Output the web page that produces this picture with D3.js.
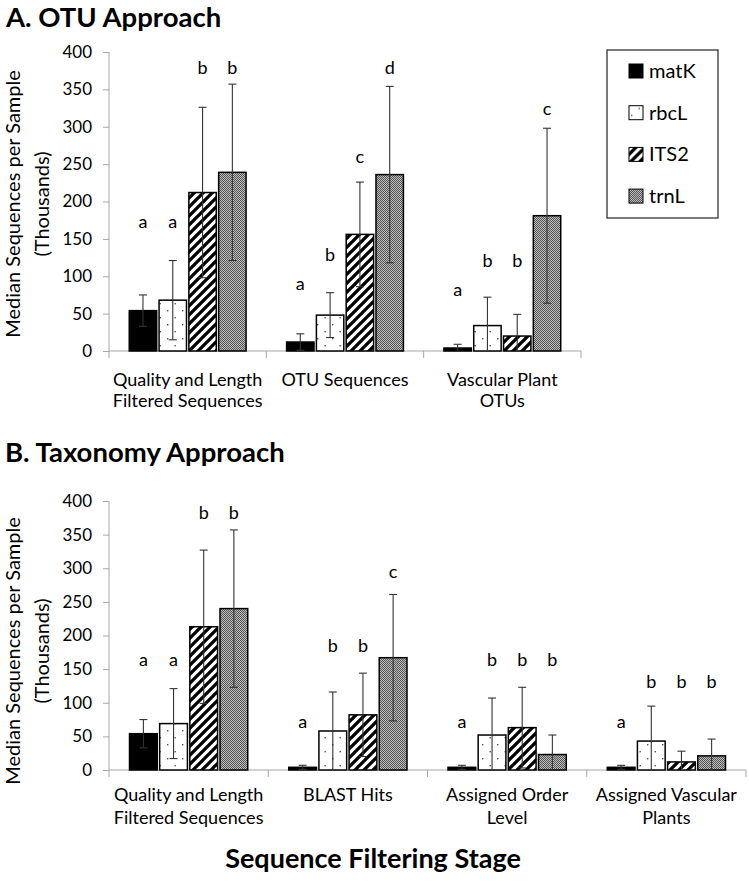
<!DOCTYPE html>
<html>
<head>
<meta charset="utf-8">
<script src="https://cdn.jsdelivr.net/npm/d3@7"></script>
<style>
  body { margin: 0; background: #fff; }
  svg { display: block; font-family: Lato, "Open Sans", sans-serif; }
</style>
</head>
<body>
<svg id="chart" width="749" height="893"></svg>
<script>
// markers (series)
const markers = ["matK", "rbcL", "ITS2", "trnL"];
const yTicks = [0, 50, 100, 150, 200, 250, 300, 350, 400];

// A. OTU approach
const stagesA = ["Quality and Length|Filtered Sequences", "OTU Sequences", "Vascular Plant|OTUs"];
const matK_A = [54, 12, 4];
const rbcL_A = [68, 48, 34];
const ITS2_A = [212, 156, 20];
const trnL_A = [239, 236, 181];
const matK_errA = [21, 11, 5];
const rbcL_errA = [53, 30, 38];
const ITS2_errA = [114, 70, 29];
const trnL_errA = [118, 118, 117];
const lettersA = [["a", "a", "b", "b"], ["a", "b", "c", "d"], ["a", "b", "b", "c"]];
const letterPosA = [[164, 164, 370, 370], [81, 121, 252, 370], [73, 112, 112, 316]];

// B. Taxonomy approach
const stagesB = ["Quality and Length|Filtered Sequences", "BLAST Hits", "Assigned Order|Level", "Assigned Vascular|Plants"];
const matK_B = [54, 4, 4, 4];
const rbcL_B = [69, 58, 52, 43];
const ITS2_B = [213, 82, 63, 12];
const trnL_B = [240, 167, 23, 21];
const matK_errB = [21, 3, 3, 3];
const rbcL_errB = [52, 58, 55, 52];
const ITS2_errB = [114, 62, 60, 16];
const trnL_errB = [117, 94, 29, 25];
const lettersB = [["a", "a", "b", "b"], ["a", "b", "b", "c"], ["a", "b", "b", "b"], ["a", "b", "b", "b"]];
const letterPosB = [[154, 154, 373, 373], [63, 175, 175, 286], [63, 154, 154, 154], [63, 122, 122, 122]];

const svg = d3.select("#chart");
const defs = svg.append("defs");

// patterns
const dots = defs.append("pattern").attr("id", "dots")
  .attr("patternUnits", "userSpaceOnUse").attr("width", 15).attr("height", 14);
dots.append("rect").attr("width", 15).attr("height", 14).attr("fill", "#fff");
dots.append("rect").attr("x", 2).attr("y", 2).attr("width", 1.4).attr("height", 1.4).attr("fill", "#555");
dots.append("rect").attr("x", 9.5).attr("y", 9).attr("width", 1.4).attr("height", 1.4).attr("fill", "#555");

const stripes = defs.append("pattern").attr("id", "stripes")
  .attr("patternUnits", "userSpaceOnUse").attr("width", 9).attr("height", 9);
stripes.append("rect").attr("width", 9).attr("height", 9).attr("fill", "#fff");
stripes.append("path").attr("d", "M-2,2 L2,-2 M0,9 L9,0 M7,11 L11,7")
  .attr("stroke", "#000").attr("stroke-width", 3.3);

const checks = defs.append("pattern").attr("id", "checks")
  .attr("patternUnits", "userSpaceOnUse").attr("width", 2).attr("height", 2);
checks.append("rect").attr("width", 2).attr("height", 2).attr("fill", "#bdbdbd");
checks.append("rect").attr("width", 1).attr("height", 1).attr("fill", "#555");
checks.append("rect").attr("x", 1).attr("y", 1).attr("width", 1).attr("height", 1).attr("fill", "#555");

const fills = d3.scaleOrdinal().domain(markers)
  .range(["#000", "url(#dots)", "url(#stripes)", "url(#checks)"]);

function buildRows(stages, series, errs, letters, letterPos) {
  return stages.flatMap((s, i) => markers.map((m, j) => ({
    stage: s, marker: m,
    value: series[j][i], err: errs[j][i],
    letter: letters[i][j], letterY: letterPos[i][j]
  })));
}

function drawPanel(cfg) {
  const g = svg.append("g");
  const x = d3.scaleBand().domain(cfg.stages).range([cfg.left, cfg.right]);
  const xi = d3.scaleBand().domain(markers).range([0, x.bandwidth()])
    .paddingInner(0.08).paddingOuter(0.68);
  const y = d3.scaleLinear().domain([0, 400]).range([cfg.bottom, cfg.top]);

  // y axis
  const yAxis = g.append("g")
    .attr("transform", `translate(${cfg.left},0)`)
    .call(d3.axisLeft(y).tickValues(yTicks).tickSize(6).tickSizeOuter(0).tickPadding(11));
  yAxis.select(".domain").remove();
  yAxis.selectAll(".tick line").attr("stroke", "#a6a6a6");
  yAxis.selectAll(".tick text").attr("font-size", 17).attr("fill", "#000")
    .attr("font-family", "Lato, sans-serif");
  g.append("line")
    .attr("x1", cfg.left).attr("x2", cfg.left)
    .attr("y1", cfg.top).attr("y2", cfg.bottom + 7)
    .attr("stroke", "#a6a6a6");

  // x axis line + dividers
  g.append("line")
    .attr("x1", cfg.left).attr("x2", cfg.right)
    .attr("y1", cfg.bottom).attr("y2", cfg.bottom)
    .attr("stroke", "#a6a6a6");
  const bounds = cfg.stages.map(s => x(s)).concat([cfg.right]);
  g.selectAll("line.div").data(bounds.slice(1)).join("line")
    .attr("class", "div")
    .attr("x1", d => d).attr("x2", d => d)
    .attr("y1", cfg.bottom).attr("y2", cfg.bottom + 7)
    .attr("stroke", "#a6a6a6");

  // category labels
  const labels = g.selectAll("text.cat").data(cfg.stages).join("text")
    .attr("class", "cat")
    .attr("text-anchor", "middle")
    .attr("font-size", 18);
  labels.selectAll("tspan").data(d => d.split("|").map(t => ({ t, s: d }))).join("tspan")
    .attr("x", d => x(d.s) + x.bandwidth() / 2)
    .attr("y", (d, i) => cfg.labelY + i * cfg.labelGap)
    .text(d => d.t);

  const rows = buildRows(cfg.stages, cfg.series, cfg.errs, cfg.letters, cfg.letterPos);
  const cx = d => x(d.stage) + xi(d.marker) + xi.bandwidth() / 2;

  // bars
  g.selectAll("rect.bar").data(rows).join("rect")
    .attr("class", "bar")
    .attr("x", d => x(d.stage) + xi(d.marker))
    .attr("y", d => y(d.value))
    .attr("width", xi.bandwidth())
    .attr("height", d => y(0) - y(d.value))
    .attr("fill", d => fills(d.marker))
    .attr("stroke", "#000")
    .attr("stroke-width", 1.5);

  // error bars
  const eb = g.selectAll("g.err").data(rows).join("g").attr("class", "err")
    .attr("stroke", "#333").attr("stroke-width", 1.1);
  eb.append("line")
    .attr("x1", cx).attr("x2", cx)
    .attr("y1", d => y(d.value + d.err))
    .attr("y2", d => y(Math.max(0, d.value - d.err)));
  eb.append("line")
    .attr("x1", d => cx(d) - 4).attr("x2", d => cx(d) + 4)
    .attr("y1", d => y(d.value + d.err)).attr("y2", d => y(d.value + d.err));
  eb.filter(d => d.value - d.err > 0).append("line")
    .attr("x1", d => cx(d) - 4).attr("x2", d => cx(d) + 4)
    .attr("y1", d => y(d.value - d.err)).attr("y2", d => y(d.value - d.err));

  // significance letters
  g.selectAll("text.sig").data(rows).join("text")
    .attr("class", "sig")
    .attr("x", cx)
    .attr("y", d => y(d.letterY))
    .attr("text-anchor", "middle")
    .attr("font-size", 18)
    .text(d => d.letter);

  // y label
  const yl = g.append("text")
    .attr("transform", `translate(0,${cfg.yLabelMid}) rotate(-90)`)
    .attr("text-anchor", "middle")
    .attr("font-size", 20);
  yl.append("tspan").attr("x", 0).attr("y", 20).text(cfg.yLabel);
  yl.append("tspan").attr("x", 0).attr("y", 49).text("(Thousands)");

  // panel title
  g.append("text")
    .attr("x", cfg.titleX).attr("y", cfg.titleY)
    .attr("font-size", 27.5).attr("font-weight", "bold")
    .text(cfg.title);
}

drawPanel({
  title: "A. OTU Approach", titleX: 6, titleY: 27,
  stages: stagesA,
  series: [matK_A, rbcL_A, ITS2_A, trnL_A],
  errs: [matK_errA, rbcL_errA, ITS2_errA, trnL_errA],
  letters: lettersA, letterPos: letterPosA,
  left: 109, right: 581, top: 52, bottom: 351,
  labelY: 386, labelGap: 21,
  yLabel: "Median Sequences per Sample", yLabelMid: 204
});

drawPanel({
  title: "B. Taxonomy Approach", titleX: 5, titleY: 462,
  stages: stagesB,
  series: [matK_B, rbcL_B, ITS2_B, trnL_B],
  errs: [matK_errB, rbcL_errB, ITS2_errB, trnL_errB],
  letters: lettersB, letterPos: letterPosB,
  left: 109, right: 746, top: 501, bottom: 770,
  labelY: 801, labelGap: 23,
  yLabel: "Median  Sequences per Sample", yLabelMid: 651
});

// legend
const legend = svg.append("g").attr("transform", "translate(607,50)");
legend.append("rect").attr("width", 111).attr("height", 168)
  .attr("fill", "#fff").attr("stroke", "#222").attr("stroke-width", 1.2);
const item = legend.selectAll("g.item").data(markers).join("g")
  .attr("class", "item")
  .attr("transform", (d, i) => `translate(22,${21 + i * 41.7})`);
item.append("rect").attr("x", 0).attr("y", -7).attr("width", 14).attr("height", 14)
  .attr("fill", d => fills(d)).attr("stroke", "#000").attr("stroke-width", 1);
item.append("text").attr("x", 20).attr("y", 7).attr("font-size", 20).text(d => d);

// shared x title
svg.append("text")
  .attr("x", 373).attr("y", 868)
  .attr("text-anchor", "middle")
  .attr("font-size", 27).attr("font-weight", "bold")
  .text("Sequence Filtering Stage");
</script>
</body>
</html>
